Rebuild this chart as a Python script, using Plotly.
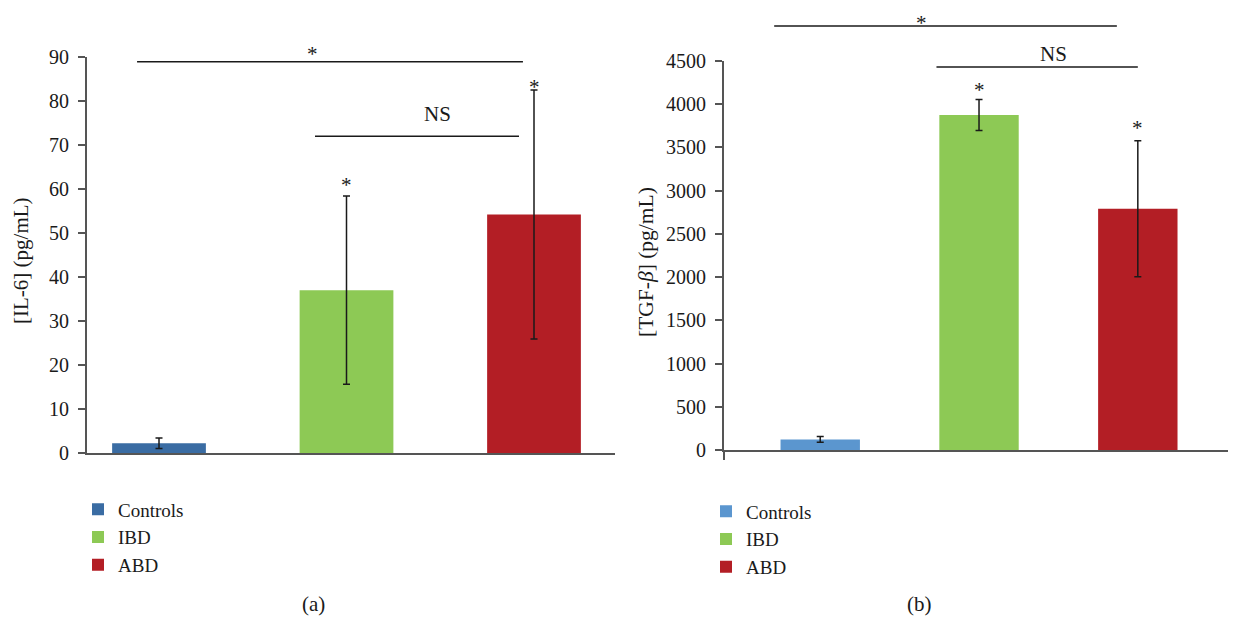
import plotly.graph_objects as go

# page body has an 8px margin: figure is placed at (8, 8)
OFF = 8
W, H = 1236 - OFF, 619 - OFF

groups = ["Controls", "IBD", "ABD"]
colors_a = ["#3A6CA3", "#8DC955", "#B31E25"]
colors_b = ["#5B96CF", "#8DC955", "#B31E25"]

il6_vals = [2.2, 37.0, 54.2]
il6_err = [1.2, 21.4, 28.3]
tgf_vals = [122, 3875, 2790]
tgf_err = [33, 180, 787]

# significance brackets: (x_start, x_end, y_level, label, label_x, label_y)
brackets_a = [(-0.117, 1.941, 88.9, "*", 0.816, 90.7),
              (0.832, 1.92, 72.0, "NS", 1.483, 77.0)]
brackets_b = [(-0.29, 1.868, 4905, "*", 0.637, None),
              (0.732, 2.0, 4431, "NS", 1.47, 4581)]
star_a = [None, 60.8, 83.2]
star_b = [None, 4165, 3725]

FONT = "Liberation Serif"
FS_TICK = 20
FS_TXT = 21
FS_LEG = 19
INK = "#1a1a1a"
AXC = "#555555"

xr_a = [-0.384, 2.432]
xr_b = [-0.606, 2.612]
yr_a = [0, 90]
yr_b = [0, 4500]


def px(x):
    return (x - OFF) / W


def py(y):
    return 1 - (y - OFF) / H


dom_xa = [px(87), px(615)]
dom_ya = [py(453), py(57)]
dom_xb = [px(724), px(1235)]
dom_yb = [py(450), py(61)]

fig = go.Figure()

for i, g in enumerate(groups):
    fig.add_trace(go.Bar(
        x=[i], y=[il6_vals[i]], name=g, marker_color=colors_a[i], width=0.5,
        marker_line_width=0,
        error_y=dict(type="data", array=[il6_err[i]], color=INK, thickness=1.5, width=3.5),
        xaxis="x", yaxis="y", legend="legend", showlegend=True))
for i, g in enumerate(groups):
    fig.add_trace(go.Bar(
        x=[i], y=[tgf_vals[i]], name=g, marker_color=colors_b[i], width=0.5,
        marker_line_width=0,
        error_y=dict(type="data", array=[tgf_err[i]], color=INK, thickness=1.5, width=3.5),
        xaxis="x2", yaxis="y2", legend="legend2", showlegend=True))


def frac(v, r):
    return (v - r[0]) / (r[1] - r[0])


shapes = []
annotations = []


def add_brackets(brs, stars, xr, yr, xa, ya):
    for (x0, x1, yl, lab, lx, ly) in brs:
        shapes.append(dict(type="line", xref=xa + " domain", yref=ya + " domain",
                           x0=frac(x0, xr), x1=frac(x1, xr), y0=frac(yl, yr), y1=frac(yl, yr),
                           line=dict(color=INK, width=1.5)))
        if ly is None:
            # label sits at the very top of the page: anchor its top at the page edge
            annotations.append(dict(text=lab, x=frac(lx, xr), y=py(OFF + 0.5),
                                    xref=xa + " domain", yref="paper", showarrow=False,
                                    font=dict(family=FONT, size=FS_TXT, color=INK),
                                    xanchor="center", yanchor="top"))
        else:
            annotations.append(dict(text=lab, x=frac(lx, xr), y=frac(ly, yr),
                                    xref=xa + " domain", yref=ya + " domain", showarrow=False,
                                    font=dict(family=FONT, size=FS_TXT, color=INK),
                                    xanchor="center", yanchor="middle"))
    for i, s in enumerate(stars):
        if s is not None:
            annotations.append(dict(text="*", x=frac(i, xr), y=frac(s, yr),
                                    xref=xa + " domain", yref=ya + " domain", showarrow=False,
                                    font=dict(family=FONT, size=FS_TXT, color=INK),
                                    xanchor="center", yanchor="middle"))


add_brackets(brackets_a, star_a, xr_a, yr_a, "x", "y")
add_brackets(brackets_b, star_b, xr_b, yr_b, "x2", "y2")

annotations += [
    dict(text="[IL-6] (pg/mL)", x=px(21), y=py(261), xref="paper", yref="paper",
         textangle=-90, showarrow=False, font=dict(family=FONT, size=FS_TXT, color=INK),
         xanchor="center", yanchor="middle"),
    dict(text="[TGF-<i>β</i>] (pg/mL)", x=px(646), y=py(262), xref="paper", yref="paper",
         textangle=-90, showarrow=False, font=dict(family=FONT, size=FS_TXT + 0.5, color=INK),
         xanchor="center", yanchor="middle"),
    dict(text="(a)", x=px(313), y=py(604), xref="paper", yref="paper", showarrow=False,
         font=dict(family=FONT, size=FS_TXT, color=INK), xanchor="center", yanchor="middle"),
    dict(text="(b)", x=px(919), y=py(604), xref="paper", yref="paper", showarrow=False,
         font=dict(family=FONT, size=FS_TXT, color=INK), xanchor="center", yanchor="middle"),
]

axis_common = dict(showgrid=False, zeroline=False, showline=True, linecolor=AXC,
                   linewidth=2, tickfont=dict(family=FONT, size=FS_TICK, color=INK))

legend_common = dict(font=dict(family=FONT, size=FS_LEG, color=INK), bgcolor="rgba(0,0,0,0)",
                     xanchor="left", yanchor="top", tracegroupgap=0, itemwidth=30)

fig.update_layout(
    width=W, height=H, autosize=False,
    margin=dict(l=0, r=0, t=0, b=0, pad=0, autoexpand=False),
    paper_bgcolor="white", plot_bgcolor="white",
    barmode="overlay",
    xaxis=dict(domain=dom_xa, range=xr_a, anchor="y", showticklabels=False, ticks="",
               automargin=False, **axis_common),
    yaxis=dict(domain=dom_ya, range=yr_a, anchor="x", ticks="outside", ticklen=7,
               tickcolor=AXC, tickwidth=1.5, dtick=10, ticklabelstandoff=5,
               automargin=False, **axis_common),
    xaxis2=dict(domain=dom_xb, range=xr_b, anchor="y2", showticklabels=False, ticks="outside",
                tickvals=xr_b, ticklen=8, tickcolor=AXC, tickwidth=2,
                automargin=False, **axis_common),
    yaxis2=dict(domain=dom_yb, range=yr_b, anchor="x2", ticks="outside", ticklen=7,
                tickcolor=AXC, tickwidth=1.5, dtick=500, ticklabelstandoff=5,
                automargin=False, **axis_common),
    legend=dict(x=px(78), y=py(490.5), **legend_common),
    legend2=dict(x=px(706), y=py(492.5), **legend_common),
    shapes=shapes,
    annotations=annotations,
)

fig.write_html("out.html")
